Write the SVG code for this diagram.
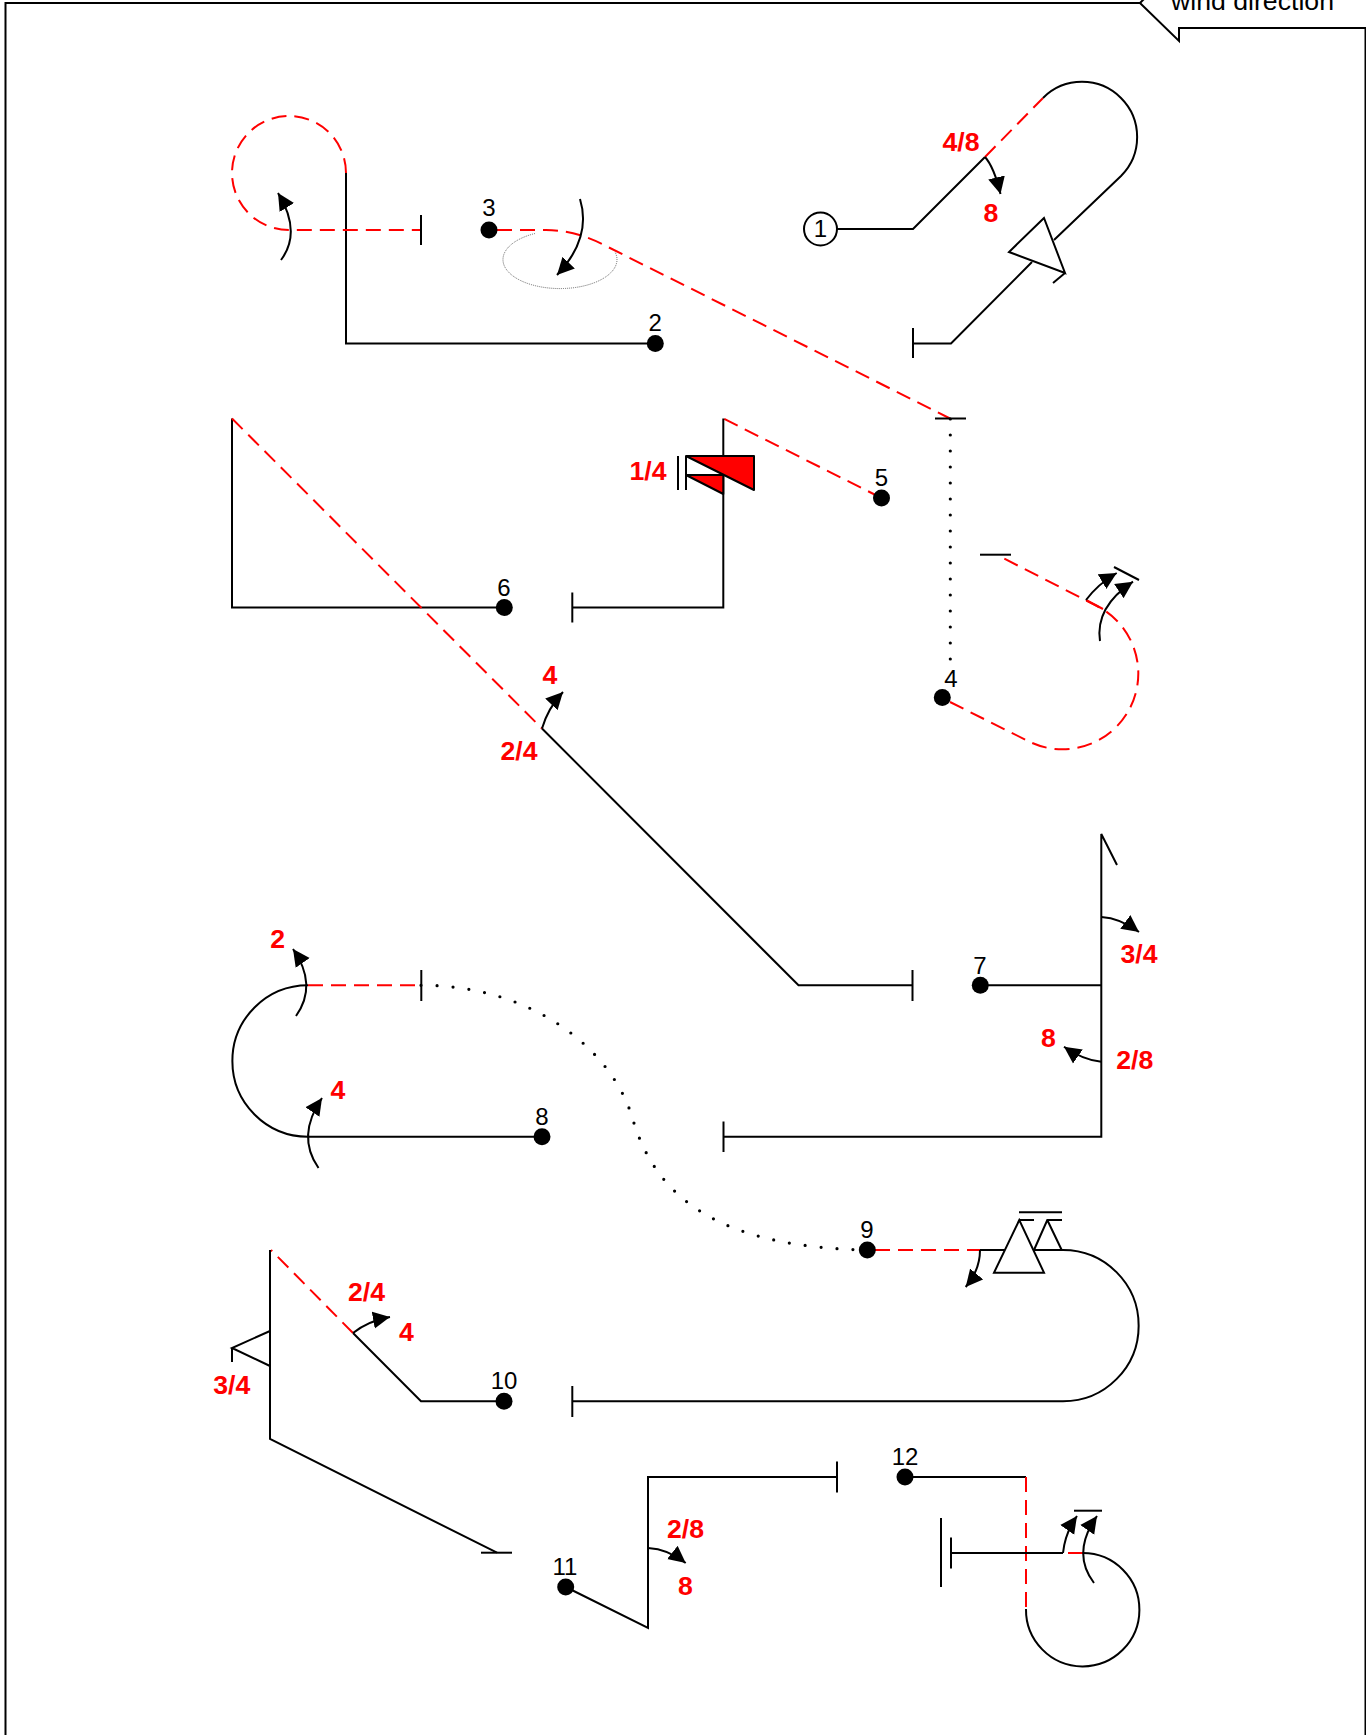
<svg xmlns="http://www.w3.org/2000/svg" width="1366" height="1735" viewBox="0 0 1366 1735">
<style>
.k{fill:none;stroke:#000;stroke-width:2}
.r{fill:none;stroke:#f00;stroke-width:2;stroke-dasharray:15 8}
.rs{fill:none;stroke:#f00;stroke-width:2}
.d{fill:none;stroke:#000;stroke-width:3.200;stroke-linecap:round;stroke-dasharray:0 16}
.g{fill:none;stroke:#666;stroke-width:1;stroke-dasharray:1 1}
.a{fill:none;stroke:#000;stroke-width:2;marker-end:url(#h)}
.t{fill:#fff;stroke:#000;stroke-width:2}
.f{fill:#f00;stroke:#000;stroke-width:2;stroke-linejoin:round}
.n{fill:#000}
.l{font:24px "Liberation Sans",Arial,sans-serif;fill:#000;text-anchor:middle}
.w{font:26.67px "Liberation Sans",Arial,sans-serif;fill:#000}
.v{font:bold 26.67px "Liberation Sans",Arial,sans-serif;fill:#f00;text-anchor:middle}
</style>
<defs>
<marker id="h" markerUnits="userSpaceOnUse" markerWidth="18" markerHeight="18" refX="17" refY="9" orient="auto" viewBox="0 0 18 18">
<path d="M0 0.500L17 9L0 17.500Z" fill="#000"/>
</marker>
</defs>
<rect width="1366" height="1735" fill="#fff"/>
<g id="frame">
<path class="k" d="M5.500 1735V3H1140L1179 41V28H1365.500V1735"/>
<path class="k" d="M1140 3L1144 -1"/>
<text class="w" x="1171" y="10">wind direction</text>
</g>
<g id="connectors">
<!-- route 1-2 -->
<path class="k" d="M837 229H913L985 157"/>
<path class="r" d="M985 157L1043 98"/>
<path class="k" d="M1043 98A50 50 0 0 1 1121 176L1054 240"/>
<path class="k" d="M1032 262L951 343.500H913"/>
<path class="k" d="M913 328V358"/>
<polygon class="t" points="1044,218 1009,252 1065,273"/>
<path class="k" d="M1065 273L1053 283"/>
<path class="a" d="M985 157Q994 167 1000.500 194"/>
<!-- route 2-3 -->
<path class="k" d="M655 343.500H346V173"/>
<path class="r" d="M346 173A57 57 0 1 0 289 230H421"/>
<path class="k" d="M421 215V245"/>
<path class="a" d="M281 260Q302 232 278 193"/>
<!-- route 3-4 -->
<path class="r" d="M497 230H546Q574 230 602 244L950 418.500"/>
<path class="g" d="M535 233.500A57 29 0 1 0 615 252"/>
<path class="a" d="M580 199Q592 238 557 275"/>
<path class="k" d="M935 418.500H966"/>
<path class="d" d="M950.300 419V660"/>
<!-- route 4-5 -->
<path class="r" d="M950 702L1028 741A70 70 0 0 0 1097 606L1003 558"/>
<path class="rs" d="M1086 600L1103 609"/>
<path class="k" d="M980 554.700H1011"/>
<path class="a" d="M1086 600Q1098 584 1116.700 573"/>
<path class="a" d="M1100 641Q1095 607 1133 581.700"/>
<path class="k" d="M1114 567L1139 580"/>
<!-- route 5-6 -->
<path class="r" d="M881.500 498L723.300 418.500"/>
<path class="k" d="M723.300 418.500V607.500H572"/>
<path class="k" d="M572.300 592.500V622.500"/>
<path class="k" d="M678 456V490M686 456V490"/>
<polygon class="f" points="686,456 754,456 754,490"/>
<polygon class="f" points="686,475 723.300,475 723.300,494"/>
<!-- route 6-7 -->
<path class="k" d="M504 607.500H232V418.500"/>
<path class="r" d="M232 418.500L542 728.500"/>
<path class="k" d="M542 728.500L798.500 985.300H912.500"/>
<path class="k" d="M912.500 970V1001"/>
<path class="a" d="M542 728.500Q548 708 563 692"/>
<!-- route 7-8 -->
<path class="k" d="M980 985.300H1101.300"/>
<path class="k" d="M1117 865L1101.300 834V1136.700H723.500"/>
<path class="k" d="M723.500 1121.500V1152"/>
<path class="a" d="M1101.300 917Q1120 918 1139 932"/>
<path class="a" d="M1101.300 1061.700Q1083 1060 1064 1046.700"/>
<!-- route 8-9 -->
<path class="k" d="M542 1136.700H308A75.700 75.700 0 0 1 308 985.300"/>
<path class="r" d="M308 985.300H421"/>
<path class="k" d="M421.300 970V1001"/>
<path class="a" d="M296 1016Q318 985 293 949"/>
<path class="a" d="M318.500 1168Q296 1136 322 1098"/>
<path class="d" d="M421 985.300C535 985 614 1052 633 1120C659 1206 730 1247 867 1250"/>
<!-- route 9-10 -->
<path class="r" d="M875 1250H980"/>
<path class="k" d="M980 1250H1005"/>
<polygon class="t" points="1019.300,1220 994,1272.700 1044,1272.700"/>
<path class="k" d="M1019.300 1220H1034M1034 1250L1047.300 1220H1062M1047.300 1220L1061.700 1250M1034 1250H1063A75.500 75.500 0 0 1 1063 1401.300H572"/>
<path class="k" d="M1019 1212.300H1062"/>
<path class="k" d="M572.300 1386V1417"/>
<path class="a" d="M980 1250Q980 1270 965.700 1287"/>
<!-- route 10-11 -->
<path class="k" d="M504 1401.300H421L353 1333"/>
<path class="r" d="M353 1333L271 1250"/>
<path class="k" d="M270 1250V1439L497 1552.700"/>
<path class="k" d="M481 1552.700H512"/>
<path class="k" d="M270 1331L232 1348L270 1366M232 1348V1362"/>
<path class="a" d="M353 1333Q368 1321 390 1317"/>
<!-- route 11-12 -->
<path class="k" d="M565.700 1587L648 1628V1477H837"/>
<path class="k" d="M837 1461.500V1492.500"/>
<path class="a" d="M648 1548Q668 1549 685.700 1563"/>
<path class="k" d="M905 1477H1026"/>
<path class="r" d="M1026 1477V1609"/>
<path class="k" d="M1026 1609A56.700 56.700 0 1 0 1082.700 1553"/>
<path class="rs" d="M1068 1553H1083"/>
<path class="k" d="M950.700 1553H1063M951 1537.500V1568.500M941 1518V1587"/>
<path class="k" d="M1074 1510.700H1102"/>
<path class="a" d="M1063 1553Q1065 1533 1077 1516"/>
<path class="a" d="M1094 1583Q1071 1553 1097 1516"/>
</g>
<g id="node-1"><circle cx="820.500" cy="229" r="16.500" fill="#fff" stroke="#000" stroke-width="2"/><text class="l" x="820.500" y="237">1</text></g>
<g id="node-2"><circle class="n" cx="655.300" cy="343.500" r="8.500"/><text class="l" x="655.300" y="331">2</text></g>
<g id="node-3"><circle class="n" cx="489" cy="230" r="8.500"/><text class="l" x="489" y="216">3</text></g>
<g id="node-4"><circle class="n" cx="942.300" cy="697.500" r="8.500"/><text class="l" x="951" y="687">4</text></g>
<g id="node-5"><circle class="n" cx="881.500" cy="498" r="8.500"/><text class="l" x="881.500" y="486">5</text></g>
<g id="node-6"><circle class="n" cx="504.300" cy="607.500" r="8.500"/><text class="l" x="504" y="596">6</text></g>
<g id="node-7"><circle class="n" cx="980.300" cy="985.300" r="8.500"/><text class="l" x="980" y="973.500">7</text></g>
<g id="node-8"><circle class="n" cx="542" cy="1136.700" r="8.500"/><text class="l" x="542" y="1125">8</text></g>
<g id="node-9"><circle class="n" cx="867.300" cy="1250" r="8.500"/><text class="l" x="867" y="1238.300">9</text></g>
<g id="node-10"><circle class="n" cx="504" cy="1401.300" r="8.500"/><text class="l" x="504" y="1389">10</text></g>
<g id="node-11"><circle class="n" cx="565.700" cy="1587" r="8.500"/><text class="l" x="565" y="1575">11</text></g>
<g id="node-12"><circle class="n" cx="905" cy="1477" r="8.500"/><text class="l" x="905" y="1465">12</text></g>
<g id="labels">
<text class="v" x="961" y="151">4/8</text>
<text class="v" x="991" y="222">8</text>
<text class="v" x="648" y="480">1/4</text>
<text class="v" x="550" y="683.500">4</text>
<text class="v" x="519" y="760">2/4</text>
<text class="v" x="1139" y="963">3/4</text>
<text class="v" x="1134.700" y="1069">2/8</text>
<text class="v" x="1048.500" y="1047">8</text>
<text class="v" x="277.600" y="948">2</text>
<text class="v" x="338" y="1099">4</text>
<text class="v" x="366.500" y="1300.700">2/4</text>
<text class="v" x="406.500" y="1340.700">4</text>
<text class="v" x="231.700" y="1394">3/4</text>
<text class="v" x="685.500" y="1538">2/8</text>
<text class="v" x="685.500" y="1595">8</text>
</g>
</svg>
